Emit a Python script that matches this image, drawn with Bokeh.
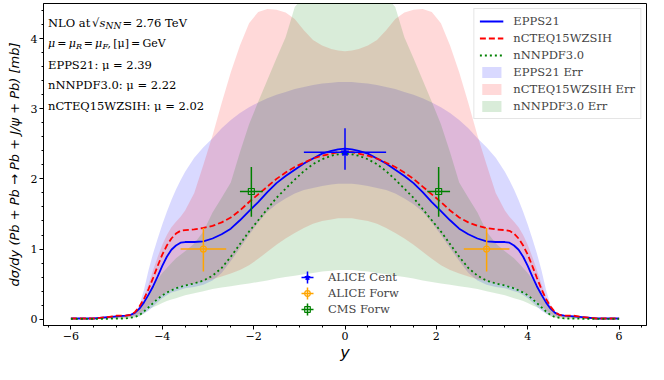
import math
from bokeh.plotting import figure
from bokeh.models import Range1d, Label, Legend, LegendItem, ColumnDataSource, FixedTicker
from bokeh.embed import file_html
from bokeh.resources import INLINE

# ---------------- data ----------------
Y_GRID = [-6.0, -5.5, -5.2, -5.0, -4.8, -4.7, -4.6, -4.5, -4.4, -4.3, -4.2, -4.1, -4.0, -3.9, -3.8,
          -3.7, -3.6, -3.5, -3.3, -3.1, -2.9, -2.7, -2.5, -2.3, -2.1, -1.9, -1.7, -1.5, -1.3, -1.1,
          -0.9, -0.7, -0.5, -0.3, -0.15, 0.0, 0.15, 0.3, 0.5, 0.7, 0.9, 1.1, 1.3, 1.5, 1.7, 1.9,
          2.1, 2.3, 2.5, 2.7, 2.9, 3.1, 3.3, 3.5, 3.6, 3.7, 3.8, 3.9, 4.0, 4.1, 4.2, 4.3, 4.4,
          4.5, 4.6, 4.7, 4.8, 5.0, 5.2, 5.5, 6.0]

EPPS21 = [0.01, 0.01, 0.03, 0.04, 0.05, 0.06, 0.09, 0.15, 0.24, 0.35, 0.47, 0.61, 0.76, 0.89, 0.99,
          1.05, 1.09, 1.10, 1.10, 1.11, 1.15, 1.21, 1.29, 1.41, 1.54, 1.67, 1.81, 1.94, 2.04, 2.13,
          2.22, 2.29, 2.36, 2.40, 2.42, 2.43, 2.42, 2.40, 2.36, 2.29, 2.22, 2.13, 2.04, 1.94, 1.81,
          1.67, 1.54, 1.41, 1.29, 1.21, 1.15, 1.11, 1.10, 1.10, 1.09, 1.05, 0.99, 0.89, 0.76, 0.61,
          0.47, 0.35, 0.24, 0.15, 0.09, 0.06, 0.05, 0.04, 0.03, 0.01, 0.01]

NCTEQ = [0.01, 0.01, 0.03, 0.05, 0.05, 0.06, 0.10, 0.18, 0.29, 0.43, 0.59, 0.76, 0.92, 1.05, 1.15,
         1.22, 1.26, 1.27, 1.28, 1.30, 1.33, 1.38, 1.45, 1.55, 1.67, 1.78, 1.89, 2.00, 2.09, 2.17,
         2.23, 2.29, 2.33, 2.36, 2.38, 2.38, 2.38, 2.36, 2.33, 2.29, 2.23, 2.17, 2.09, 2.00, 1.89,
         1.78, 1.67, 1.55, 1.45, 1.38, 1.33, 1.30, 1.28, 1.27, 1.26, 1.22, 1.15, 1.05, 0.92, 0.76,
         0.59, 0.43, 0.29, 0.18, 0.10, 0.06, 0.05, 0.05, 0.03, 0.01, 0.01]

NNNPDF = [0.005, 0.005, 0.005, 0.01, 0.01, 0.02, 0.03, 0.06, 0.11, 0.17, 0.23, 0.29, 0.34, 0.38, 0.41,
          0.44, 0.46, 0.48, 0.51, 0.55, 0.62, 0.73, 0.89, 1.07, 1.25, 1.41, 1.57, 1.73, 1.86, 1.99,
          2.11, 2.21, 2.28, 2.33, 2.35, 2.36, 2.35, 2.33, 2.28, 2.21, 2.11, 1.99, 1.86, 1.73, 1.57,
          1.41, 1.25, 1.07, 0.89, 0.73, 0.62, 0.55, 0.51, 0.48, 0.46, 0.44, 0.41, 0.38, 0.34, 0.29,
          0.23, 0.17, 0.11, 0.06, 0.03, 0.02, 0.01, 0.01, 0.005, 0.005, 0.005]

EPPS21_HI = [0.01, 0.02, 0.03, 0.05, 0.06, 0.07, 0.10, 0.20, 0.42, 0.70, 0.94, 1.15, 1.35, 1.53, 1.70,
             1.85, 1.98, 2.10, 2.30, 2.45, 2.58, 2.72, 2.84, 2.94, 3.02, 3.09, 3.15, 3.20, 3.24, 3.28,
             3.31, 3.34, 3.36, 3.37, 3.38, 3.38, 3.38, 3.37, 3.36, 3.34, 3.31, 3.28, 3.24, 3.20, 3.15,
             3.09, 3.02, 2.94, 2.84, 2.72, 2.58, 2.45, 2.30, 2.10, 1.98, 1.85, 1.70, 1.53, 1.35, 1.15,
             0.94, 0.70, 0.42, 0.20, 0.10, 0.07, 0.06, 0.05, 0.03, 0.02, 0.01]
EPPS21_LO = [0.005, 0.005, 0.01, 0.02, 0.03, 0.03, 0.04, 0.05, 0.08, 0.12, 0.18, 0.24, 0.30, 0.34, 0.38,
             0.40, 0.42, 0.44, 0.46, 0.49, 0.55, 0.66, 0.83, 1.01, 1.20, 1.38, 1.53, 1.64, 1.72, 1.79,
             1.84, 1.87, 1.90, 1.92, 1.93, 1.93, 1.93, 1.92, 1.90, 1.87, 1.84, 1.79, 1.72, 1.64, 1.53,
             1.38, 1.20, 1.01, 0.83, 0.66, 0.55, 0.49, 0.46, 0.44, 0.42, 0.40, 0.38, 0.34, 0.30, 0.24,
             0.18, 0.12, 0.08, 0.05, 0.04, 0.03, 0.03, 0.02, 0.01, 0.005, 0.005]

NCTEQ_HI = [0.01, 0.02, 0.03, 0.05, 0.06, 0.07, 0.10, 0.18, 0.32, 0.50, 0.70, 0.89, 1.06, 1.20, 1.31,
            1.39, 1.46, 1.55, 1.80, 2.20, 2.62, 3.08, 3.52, 3.90, 4.22, 4.38, 4.42, 4.41, 4.37, 4.28,
            4.12, 3.98, 3.90, 3.85, 3.83, 3.82, 3.83, 3.85, 3.90, 3.98, 4.12, 4.28, 4.37, 4.41, 4.42,
            4.38, 4.22, 3.90, 3.52, 3.08, 2.62, 2.20, 1.80, 1.55, 1.46, 1.39, 1.31, 1.20, 1.06, 0.89,
            0.70, 0.50, 0.32, 0.18, 0.10, 0.07, 0.06, 0.05, 0.03, 0.02, 0.01]
NCTEQ_LO = [0.005, 0.005, 0.01, 0.02, 0.02, 0.03, 0.05, 0.08, 0.13, 0.19, 0.25, 0.30, 0.35, 0.39, 0.42,
            0.45, 0.47, 0.49, 0.51, 0.54, 0.57, 0.61, 0.65, 0.70, 0.77, 0.86, 0.96, 1.06, 1.15, 1.23,
            1.30, 1.36, 1.40, 1.42, 1.44, 1.44, 1.44, 1.42, 1.40, 1.36, 1.30, 1.23, 1.15, 1.06, 0.96,
            0.86, 0.77, 0.70, 0.65, 0.61, 0.57, 0.54, 0.51, 0.49, 0.47, 0.45, 0.42, 0.39, 0.35, 0.30,
            0.25, 0.19, 0.13, 0.08, 0.05, 0.03, 0.02, 0.02, 0.01, 0.005, 0.005]

NNNPDF_HI = [0.005, 0.01, 0.02, 0.03, 0.04, 0.06, 0.10, 0.16, 0.25, 0.36, 0.47, 0.57, 0.66, 0.73, 0.80,
             0.87, 0.92, 0.97, 1.08, 1.25, 1.52, 1.73, 1.95, 2.38, 2.78, 3.10, 3.41, 3.72, 4.02, 4.45,
             4.60, 4.70, 4.76, 4.79, 4.80, 4.80, 4.80, 4.79, 4.76, 4.70, 4.60, 4.45, 4.02, 3.72, 3.41,
             3.10, 2.78, 2.38, 1.95, 1.73, 1.52, 1.25, 1.08, 0.97, 0.92, 0.87, 0.80, 0.73, 0.66, 0.57,
             0.47, 0.36, 0.25, 0.16, 0.10, 0.06, 0.04, 0.03, 0.02, 0.01, 0.005]
NNNPDF_LO = [0.002, 0.002, 0.003, 0.004, 0.005, 0.01, 0.02, 0.04, 0.08, 0.14, 0.17, 0.20, 0.23, 0.26, 0.28,
             0.30, 0.32, 0.34, 0.37, 0.40, 0.43, 0.45, 0.47, 0.49, 0.51, 0.53, 0.55, 0.58, 0.60, 0.62,
             0.64, 0.66, 0.68, 0.69, 0.70, 0.70, 0.70, 0.69, 0.68, 0.66, 0.64, 0.62, 0.60, 0.58, 0.55,
             0.53, 0.51, 0.49, 0.47, 0.45, 0.43, 0.40, 0.37, 0.34, 0.32, 0.30, 0.28, 0.26, 0.23, 0.20,
             0.17, 0.14, 0.08, 0.04, 0.02, 0.01, 0.005, 0.004, 0.003, 0.002, 0.002]

# measurements
ALICE_CENT_Y = [0.0]
ALICE_CENT_V = [2.38]
ALICE_CENT_YERR = [0.9]
ALICE_CENT_LO = [2.13]
ALICE_CENT_HI = [2.72]

ALICE_FORW_Y = [-3.1, 3.1]
ALICE_FORW_V = [1.00, 1.00]
ALICE_FORW_YERR = [0.5, 0.5]
ALICE_FORW_LO = [0.68, 0.68]
ALICE_FORW_HI = [1.30, 1.30]

CMS_FORW_Y = [-2.05, 2.05]
CMS_FORW_V = [1.82, 1.82]
CMS_FORW_YERR = [0.25, 0.25]
CMS_FORW_LO = [1.46, 1.46]
CMS_FORW_HI = [2.17, 2.17]

X_TICKS = [-6, -4, -2, 0, 2, 4, 6]
Y_TICKS = [0, 1, 2, 3, 4]

# ---------------- figure ----------------
p = figure(width=648, height=364, output_backend="svg", toolbar_location=None,
           x_range=Range1d(-6.6, 6.6), y_range=Range1d(-0.09, 4.5),
           min_border_left=43, min_border_right=2, min_border_top=3, min_border_bottom=36)
p.xgrid.visible = False
p.ygrid.visible = False
p.outline_line_color = "black"
p.outline_line_width = 1
p.outline_line_alpha = 1.0
p.background_fill_color = "white"
p.border_fill_color = "white"

FILL_A = 0.15
r_be = p.varea(x=Y_GRID, y1=EPPS21_LO, y2=EPPS21_HI, fill_color="blue", fill_alpha=FILL_A)
r_ce = p.varea(x=Y_GRID, y1=NCTEQ_LO, y2=NCTEQ_HI, fill_color="red", fill_alpha=FILL_A)
r_ne = p.varea(x=Y_GRID, y1=NNNPDF_LO, y2=NNNPDF_HI, fill_color="green", fill_alpha=FILL_A)

r_b = p.line(Y_GRID, EPPS21, line_color="blue", line_width=1.8)
r_c = p.line(Y_GRID, NCTEQ, line_color="red", line_width=1.8, line_dash="6 3")
r_n = p.line(Y_GRID, NNNPDF, line_color="green", line_width=1.8, line_dash="2 3")

NAN = float("nan")


def errbar(xs, vs, xerr, lo, hi, color, marker, fill, msize):
    src = ColumnDataSource(dict(x=xs, v=vs,
                                x0=[a - b for a, b in zip(xs, xerr)],
                                x1=[a + b for a, b in zip(xs, xerr)],
                                lo=lo, hi=hi))
    p.segment(x0="x0", y0="v", x1="x1", y1="v", source=src, line_color=color, line_width=1.5)
    p.segment(x0="x", y0="lo", x1="x", y1="hi", source=src, line_color=color, line_width=1.5)
    p.scatter(x="x", y="v", source=src, marker=marker, size=msize,
              line_color=color, fill_color=fill, line_width=1.2)
    # legend-only glyphs (NaN data: not visible in the plot area)
    c = p.scatter(x=[NAN], y=[NAN], marker="cross", size=13, line_color=color, line_width=1.5)
    m = p.scatter(x=[NAN], y=[NAN], marker=marker, size=msize, line_color=color,
                  fill_color=fill, line_width=1.2)
    return c, m


lg_ac = errbar(ALICE_CENT_Y, ALICE_CENT_V, ALICE_CENT_YERR, ALICE_CENT_LO, ALICE_CENT_HI,
               "blue", "star", "blue", 8)
lg_af = errbar(ALICE_FORW_Y, ALICE_FORW_V, ALICE_FORW_YERR, ALICE_FORW_LO, ALICE_FORW_HI,
               "orange", "circle", None, 6)
lg_cm = errbar(CMS_FORW_Y, CMS_FORW_V, CMS_FORW_YERR, CMS_FORW_LO, CMS_FORW_HI,
               "green", "square", None, 6)

# ---------------- axes ----------------
minor_x = [v / 2 for v in range(-13, 14)]
minor_y = [v / 5 for v in range(0, 23)]
p.xaxis.ticker = FixedTicker(ticks=X_TICKS, minor_ticks=minor_x)
p.yaxis.ticker = FixedTicker(ticks=Y_TICKS, minor_ticks=minor_y)
p.xaxis.major_label_overrides = {t: (str(t) if t >= 0 else "\u2212" + str(-t)) for t in X_TICKS}
for ax in (p.xaxis, p.yaxis):
    ax.major_label_text_font = "DejaVu Serif"
    ax.major_label_text_font_size = "11px"
    ax.major_label_text_color = "black"
    ax.axis_line_color = "black"
    ax.major_tick_line_color = "black"
    ax.minor_tick_line_color = "black"
    ax.major_tick_out = 4
    ax.major_tick_in = 0
    ax.minor_tick_out = 2
    ax.minor_tick_in = 0
    ax.major_label_standoff = 2
    ax.axis_label_text_color = "black"
    ax.axis_label_text_font = "DejaVu Sans"
    ax.axis_label_text_font_style = "italic"
p.yaxis.major_label_orientation = "horizontal"

p.xaxis.axis_label = "y"
p.xaxis.axis_label_text_font_size = "16px"
p.xaxis.axis_label_standoff = 0
p.yaxis.axis_label = "d\u03c3/dy (Pb + Pb \u2192 Pb + J/\u03c8 + Pb) [mb]"
p.yaxis.axis_label_text_font_size = "13px"
p.yaxis.axis_label_standoff = 6


def lab(x, y, text, size, style="normal", font="DejaVu Serif", align="left"):
    p.add_layout(Label(x=x, y=y, x_units="screen", y_units="screen", text=text,
                       text_font=font, text_font_size=f"{size}px", text_font_style=style,
                       text_align=align, text_baseline="alphabetic", text_color="black"))


# info text (top left)
FS = 11.5
TH = "\u2009"
lab(4.5, 303.0, "NLO at", FS)
lab(48.5, 303.0, "\u221a", FS)
lab(56.0, 303.0, "s", FS, style="italic")
lab(62.0, 300.0, "NN", 9, style="italic")
lab(79.0, 303.0, "= 2.76 TeV", FS)

lab(4.5, 282.3, "\u03bc" + TH + "=" + TH + "\u03bc", 11, style="italic")
lab(32.5, 279.3, "R", 8, style="italic")
lab(38.0, 282.3, TH + "=" + TH + "\u03bc", 11, style="italic")
lab(59.0, 279.3, "F", 8, style="italic")
lab(64.0, 282.3, "," + TH + "[\u03bc]" + TH + "=" + TH + "GeV", 11)

lab(4.5, 261.0, "EPPS21: \u03bc = 2.39", FS)
lab(4.5, 240.3, "nNNPDF3.0: \u03bc = 2.22", FS)
lab(4.5, 219.7, "nCTEQ15WZSIH: \u03bc = 2.02", FS)

# ---------------- legends ----------------
leg1 = Legend(items=[
    LegendItem(label="EPPS21", renderers=[r_b]),
    LegendItem(label="nCTEQ15WZSIH", renderers=[r_c]),
    LegendItem(label="nNNPDF3.0", renderers=[r_n]),
    LegendItem(label="EPPS21 Err", renderers=[r_be]),
    LegendItem(label="nCTEQ15WZSIH Err", renderers=[r_ce]),
    LegendItem(label="nNNPDF3.0 Err", renderers=[r_ne]),
], location="top_right")
leg1.label_text_font = "DejaVu Serif"
leg1.label_text_font_size = "11.5px"
leg1.glyph_width = 24
leg1.glyph_height = 14
leg1.label_height = 14
leg1.spacing = 3
leg1.padding = 5
leg1.margin = 5
leg1.label_standoff = 10
leg1.border_line_color = "#cccccc"
leg1.border_line_width = 1
leg1.background_fill_alpha = 0.8
p.add_layout(leg1)


# measurement legend: one single-item legend per entry (large glyph box -> 12px cross)
def cross_legend(label, rend, y_bottom):
    lg = Legend(items=[LegendItem(label=label, renderers=[rend])], location=(249, y_bottom))
    lg.label_text_font = "DejaVu Serif"
    lg.label_text_font_size = "11.5px"
    lg.glyph_width = 30
    lg.glyph_height = 30
    lg.label_height = 30
    lg.padding = 0
    lg.margin = 0
    lg.label_standoff = 6
    lg.border_line_alpha = 0
    lg.background_fill_alpha = 0
    p.add_layout(lg)


cross_legend("ALICE Cent", lg_ac[0], 33.5)
cross_legend("ALICE Forw", lg_af[0], 17.5)
cross_legend("CMS Forw", lg_cm[0], 1.5)

# small markers drawn over the crosses
leg3 = Legend(items=[
    LegendItem(label=" ", renderers=[lg_ac[1]]),
    LegendItem(label=" ", renderers=[lg_af[1]]),
    LegendItem(label=" ", renderers=[lg_cm[1]]),
], location=(257, 9.5))
leg3.label_text_font_size = "11.5px"
leg3.glyph_width = 14
leg3.glyph_height = 14
leg3.label_height = 14
leg3.spacing = 2
leg3.padding = 0
leg3.margin = 0
leg3.label_standoff = 0
leg3.border_line_alpha = 0
leg3.background_fill_alpha = 0
p.add_layout(leg3)

open("out.html", "w").write(file_html(p, INLINE))
